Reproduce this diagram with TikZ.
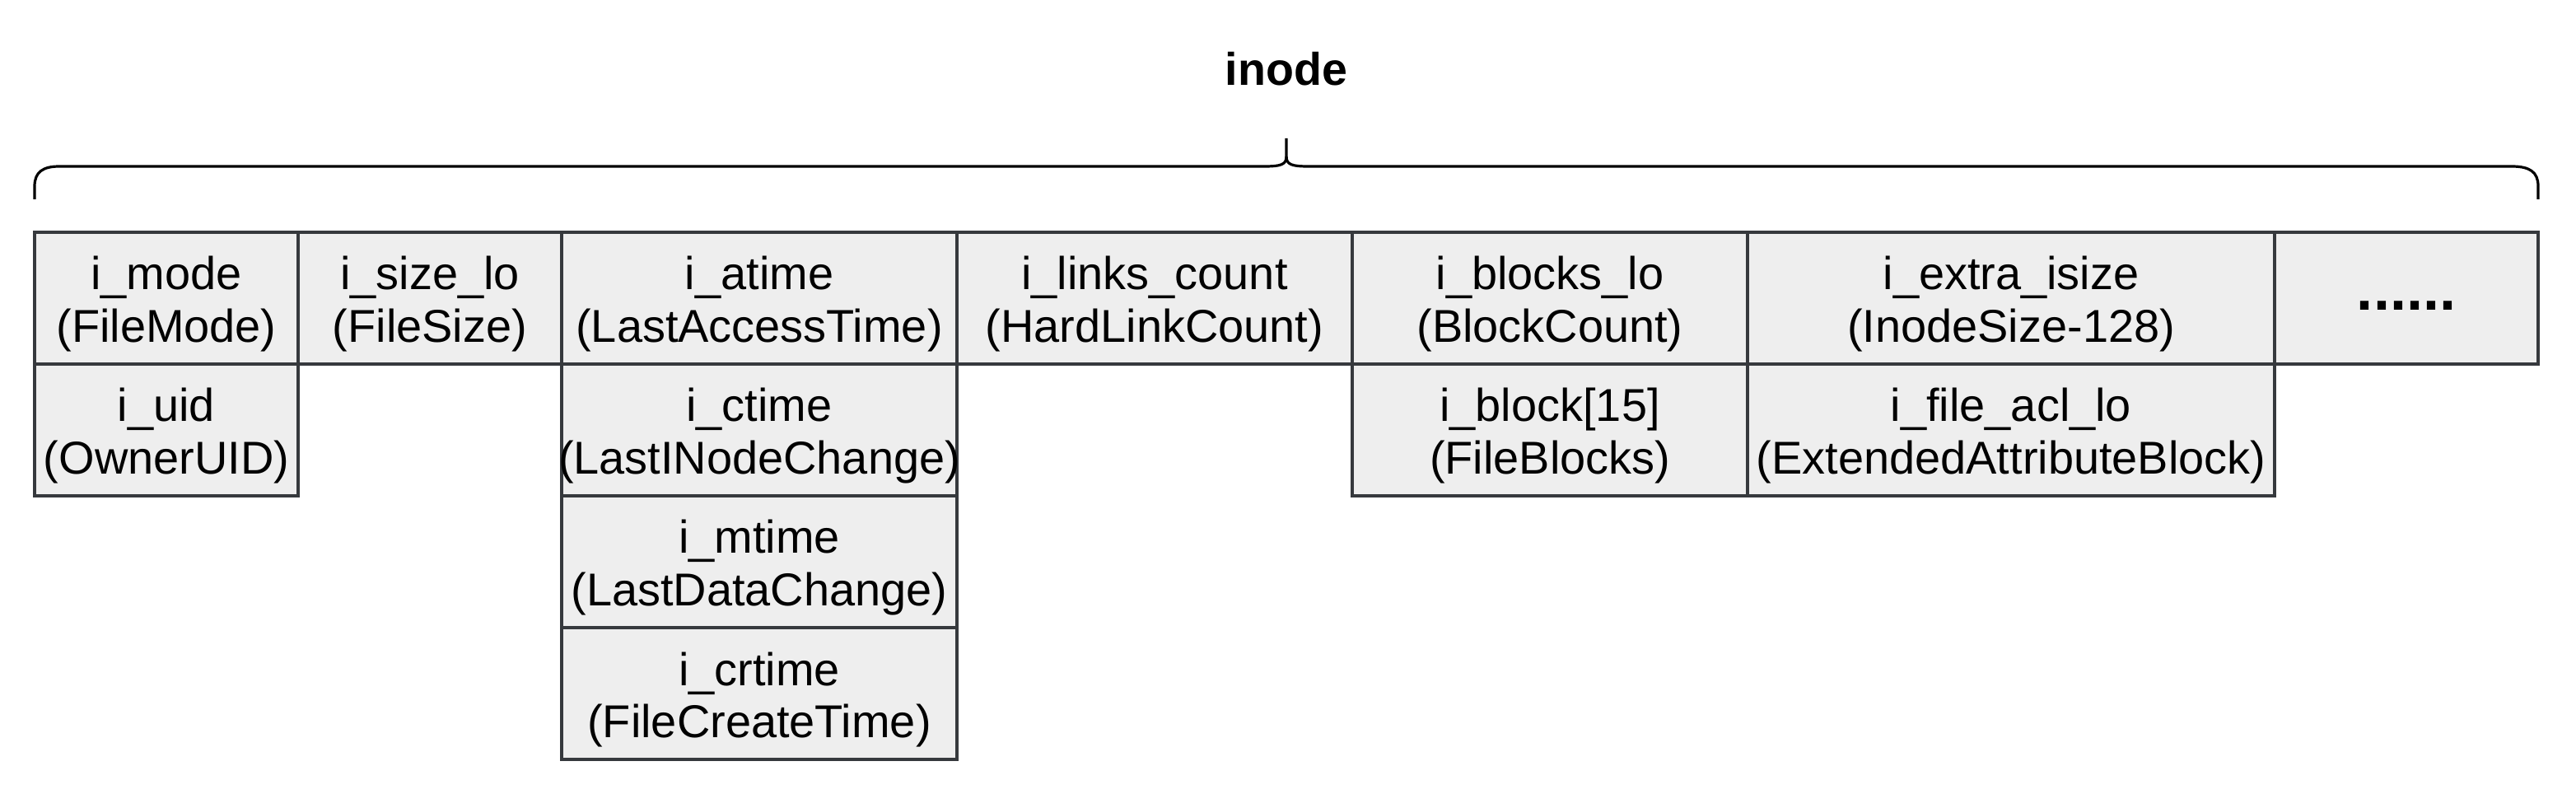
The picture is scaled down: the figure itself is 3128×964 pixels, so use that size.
\documentclass[tikz,border=0pt]{standalone}
\usepackage{fontspec}
\setmainfont{Liberation Sans}
\definecolor{cellfill}{HTML}{EEEEEE}
\definecolor{cellline}{HTML}{36393D}
\newcommand\twolines[2]{\hbox to 0pt{\hss\vbox{\baselineskip=0.63cm\lineskiplimit=-100pt\lineskip=0pt\halign{\hfil##\hfil\cr #1\cr #2\cr}}\hss}}
\begin{document}
\begin{tikzpicture}[x=0.01cm,y=-0.01cm,
  cell/.style={draw=cellline, fill=cellfill, line width=0.04cm, inner sep=0pt,
    minimum height=1.6cm, text height=1.06cm, text depth=0cm,
    font=\fontsize{15.9pt}{17.86pt}\selectfont},
  w2/.style={minimum width=3.2cm},
  w3/.style={minimum width=4.8cm},
  w4/.style={minimum width=6.4cm},
  bracestyle/.style={draw=black, line width=0.032cm, line join=round}
]
\useasboundingbox (0,0) rectangle (3128,964);
% title
\node[anchor=base, inner sep=0pt, font=\fontsize{15.8pt}{18pt}\selectfont\bfseries] (title) at (1562,104) {inode};
% brace
\path[bracestyle] (42,242) -- (42,226) .. controls (42,209) and (52,202) .. (72,202)
  -- (1535,202) .. controls (1555,202) and (1562,200) .. (1562,190) -- (1562,168);
\path[bracestyle] (1562,190) .. controls (1562,200) and (1569,202) .. (1589,202)
  -- (3050,202) .. controls (3072,202) and (3082,209) .. (3082,226) -- (3082,242);
% row 1
\node[cell,w2] (mode)   at (202,362)  {\twolines{i\_mode}{(FileMode)}};
\node[cell,w2] (size)   at (522,362)  {\twolines{i\_size\_lo}{(FileSize)}};
\node[cell,w3] (atime)  at (922,362)  {\twolines{i\_atime}{(LastAccessTime)}};
\node[cell,w3] (links)  at (1402,362) {\twolines{i\_links\_count}{(HardLinkCount)}};
\node[cell,w3] (blocks) at (1882,362) {\twolines{i\_blocks\_lo}{(BlockCount)}};
\node[cell,w4] (extra)  at (2442,362) {\twolines{i\_extra\_isize}{(InodeSize-128)}};
\node[cell,w2, text height=0.28cm, font=\fontsize{20.5pt}{24pt}\selectfont\bfseries] (more) at (2922,362) {......};
% row 2
\node[cell,w2] (uid)    at (202,522)  {\twolines{i\_uid}{(OwnerUID)}};
\node[cell,w3] (ctime)  at (922,522)  {\twolines{i\_ctime}{(LastINodeChange)}};
\node[cell,w3] (block)  at (1882,522) {\twolines{i\_block[15]}{(FileBlocks)}};
\node[cell,w4] (acl)    at (2442,522) {\twolines{i\_file\_acl\_lo}{(ExtendedAttributeBlock)}};
% row 3, 4
\node[cell,w3] (mtime)  at (922,682)  {\twolines{i\_mtime}{(LastDataChange)}};
\node[cell,w3] (crtime) at (922,842)  {\twolines{i\_crtime}{(FileCreateTime)}};
\end{tikzpicture}
\end{document}
